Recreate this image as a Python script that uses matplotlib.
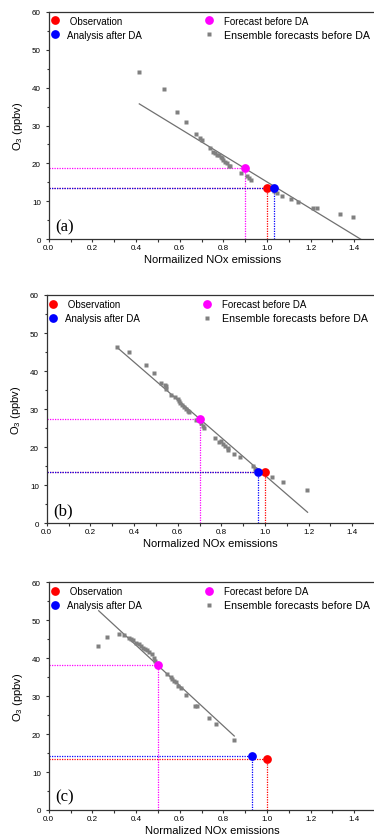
import matplotlib
matplotlib.use("Agg")
import matplotlib.pyplot as plt
import numpy as np

plt.rcParams['font.family'] = ['Liberation Sans', 'DejaVu Sans']
plt.rcParams['mathtext.fontset'] = 'custom'
plt.rcParams['mathtext.rm'] = 'Liberation Sans'

# ---------------- data ----------------
panel_labels = ['(a)', '(b)', '(c)']
xlabels = ['Normailized NOx emissions', 'Normalized NOx emissions', 'Normalized NOx emissions']

obs_x = [1.0, 1.0, 1.0]
obs_y = [13.4, 13.4, 13.4]
fc_x = [0.90, 0.70, 0.50]
fc_y = [18.7, 27.5, 38.2]
an_x = [1.03, 0.97, 0.93]
an_y = [13.6, 13.6, 14.2]

fit_x = [[0.415, 1.43], [0.321, 1.195], [0.229, 0.85]]
fit_y = [[35.7, 0.0], [46.3, 2.9], [52.5, 19.5]]

ens_a_x = [0.415, 0.527, 0.586, 0.63, 0.675, 0.693, 0.702, 0.739, 0.754, 0.762,
           0.773, 0.78, 0.788, 0.794, 0.80, 0.808, 0.815, 0.824, 0.83, 0.879,
           0.907, 0.918, 0.925, 0.998, 1.032, 1.044, 1.069, 1.108, 1.143, 1.212,
           1.227, 1.333, 1.394]
ens_a_y = [44.1, 39.6, 33.6, 30.9, 27.7, 26.8, 26.2, 24.1, 23.1, 22.7,
           22.3, 22.1, 21.8, 21.4, 20.9, 20.5, 20.0, 19.4, 19.2, 17.6,
           16.8, 16.2, 15.7, 13.4, 12.7, 12.2, 11.5, 10.5, 9.75, 8.3,
           8.3, 6.6, 6.0]

ens_b_x = [0.321, 0.377, 0.453, 0.49, 0.525, 0.54, 0.545, 0.545, 0.571, 0.59,
           0.60, 0.606, 0.612, 0.621, 0.627, 0.637, 0.646, 0.653, 0.684, 0.708,
           0.718, 0.722, 0.77, 0.789, 0.80, 0.806, 0.815, 0.829, 0.832, 0.86,
           0.887, 0.944, 0.954, 1.032, 1.082, 1.192]
ens_b_y = [46.3, 45.1, 41.6, 39.5, 37.0, 36.4, 36.0, 35.3, 33.7, 33.2,
           32.7, 32.1, 31.6, 31.1, 30.5, 30.0, 29.5, 29.2, 27.1, 26.4,
           25.7, 25.1, 22.3, 21.3, 21.6, 20.8, 20.4, 19.7, 19.2, 18.2,
           17.3, 15.0, 14.3, 12.2, 10.9, 8.8]

ens_c_x = [0.225, 0.265, 0.32, 0.346, 0.367, 0.376, 0.384, 0.402, 0.414, 0.425,
           0.434, 0.442, 0.449, 0.46, 0.471, 0.483, 0.486, 0.506, 0.544, 0.558,
           0.564, 0.573, 0.582, 0.591, 0.608, 0.628, 0.669, 0.679, 0.733, 0.768,
           0.849]
ens_c_y = [43.3, 45.6, 46.5, 46.1, 45.3, 45.1, 44.9, 44.0, 43.7, 43.2,
           42.6, 42.4, 42.1, 41.6, 41.0, 40.0, 39.2, 38.0, 35.9, 35.0,
           34.5, 34.1, 33.7, 32.8, 32.1, 30.3, 27.5, 27.5, 24.2, 22.6,
           18.5]

ens_x = [ens_a_x, ens_b_x, ens_c_x]
ens_y = [ens_a_y, ens_b_y, ens_c_y]

xticks = [0.0, 0.2, 0.4, 0.6, 0.8, 1.0, 1.2, 1.4]
yticks = [0, 10, 20, 30, 40, 50, 60]

# ---------------- figure ----------------
W, H = 374, 837
fig = plt.figure(figsize=(W / 100, H / 100), dpi=100)

pos_px = [(48.7, 12.7, 240.3), (46.7, 296.0, 524.3), (48.7, 583.3, 811.0)]
xscale = 218.3

RED, BLUE, MAG, GREY = '#ff0000', '#0000ff', '#ff00ff', '#808080'

for i in range(3):
    l, t, b = pos_px[i]
    ax = fig.add_axes([l / W, (H - b) / H, 1.5 * xscale / W, (b - t) / H])
    ax.set_xlim(0, 1.5)
    ax.set_ylim(0, 60)

    for (px, py, c) in [(fc_x[i], fc_y[i], MAG), (obs_x[i], obs_y[i], RED), (an_x[i], an_y[i], BLUE)]:
        ax.plot([0, px], [py, py], linestyle=(0, (1, 1)), color=c, lw=0.9, zorder=2)
        ax.plot([px, px], [0, py], linestyle=(0, (1, 1)), color=c, lw=0.9, zorder=2)

    ax.plot(fit_x[i], fit_y[i], color='#707070', lw=0.9, zorder=3)
    ens = ax.plot(ens_x[i], ens_y[i], 's', color=GREY, ms=3.0, mec='none', zorder=4)[0]
    o = ax.plot([obs_x[i]], [obs_y[i]], 'o', color=RED, ms=6.3, mec='none', zorder=5)[0]
    a = ax.plot([an_x[i]], [an_y[i]], 'o', color=BLUE, ms=6.3, mec='none', zorder=6)[0]
    f = ax.plot([fc_x[i]], [fc_y[i]], 'o', color=MAG, ms=6.3, mec='none', zorder=6)[0]

    ax.set_xticks(xticks)
    ax.set_xticks(np.arange(0.1, 1.5, 0.2), minor=True)
    ax.set_yticks(yticks)
    ax.set_yticks(np.arange(5, 60, 10), minor=True)
    ax.set_xticklabels([f'{v:.1f}' for v in xticks])
    ax.tick_params(axis='both', which='both', direction='out', labelsize=5.8,
                   width=0.8, color='#333333')
    ax.tick_params(axis='both', which='major', length=2.5)
    ax.tick_params(axis='both', which='minor', length=1.8)
    ax.tick_params(axis='x', pad=0.8)
    ax.tick_params(axis='y', pad=3.2)
    ax.tick_params(top=False, right=False)
    for s in ['left', 'bottom', 'top']:
        ax.spines[s].set_color('#333333')
        ax.spines[s].set_linewidth(0.9)
    ax.spines['right'].set_visible(False)

    ax.set_xlabel(xlabels[i], fontsize=8, labelpad=2.5)
    ax.set_ylabel('O$_3$ (ppbv)', fontsize=8, labelpad=5)

    ax.text(0.02, 0.058, panel_labels[i], transform=ax.transAxes, fontsize=12,
            family='Liberation Serif', ha='left', va='center')

    leg1 = ax.legend([o, a], [' Observation', 'Analysis after DA'], loc='upper left',
                     bbox_to_anchor=(0.0043, 0.982), frameon=False, fontsize=7,
                     handlelength=1.0, handletextpad=0.71, borderpad=0, borderaxespad=0,
                     labelspacing=0.4, numpoints=1)
    ax.add_artist(leg1)
    leg2 = ax.legend([f, ens], ['Forecast before DA', 'Ensemble forecasts before DA'],
                     loc='upper left', bbox_to_anchor=(0.475, 0.982), frameon=False,
                     fontsize=7, handlelength=1.0, handletextpad=1.0, borderpad=0,
                     borderaxespad=0, labelspacing=0.4, numpoints=1)
    leg2.get_texts()[1].set_fontsize(7.7)

fig.savefig('out.png', dpi=100)
